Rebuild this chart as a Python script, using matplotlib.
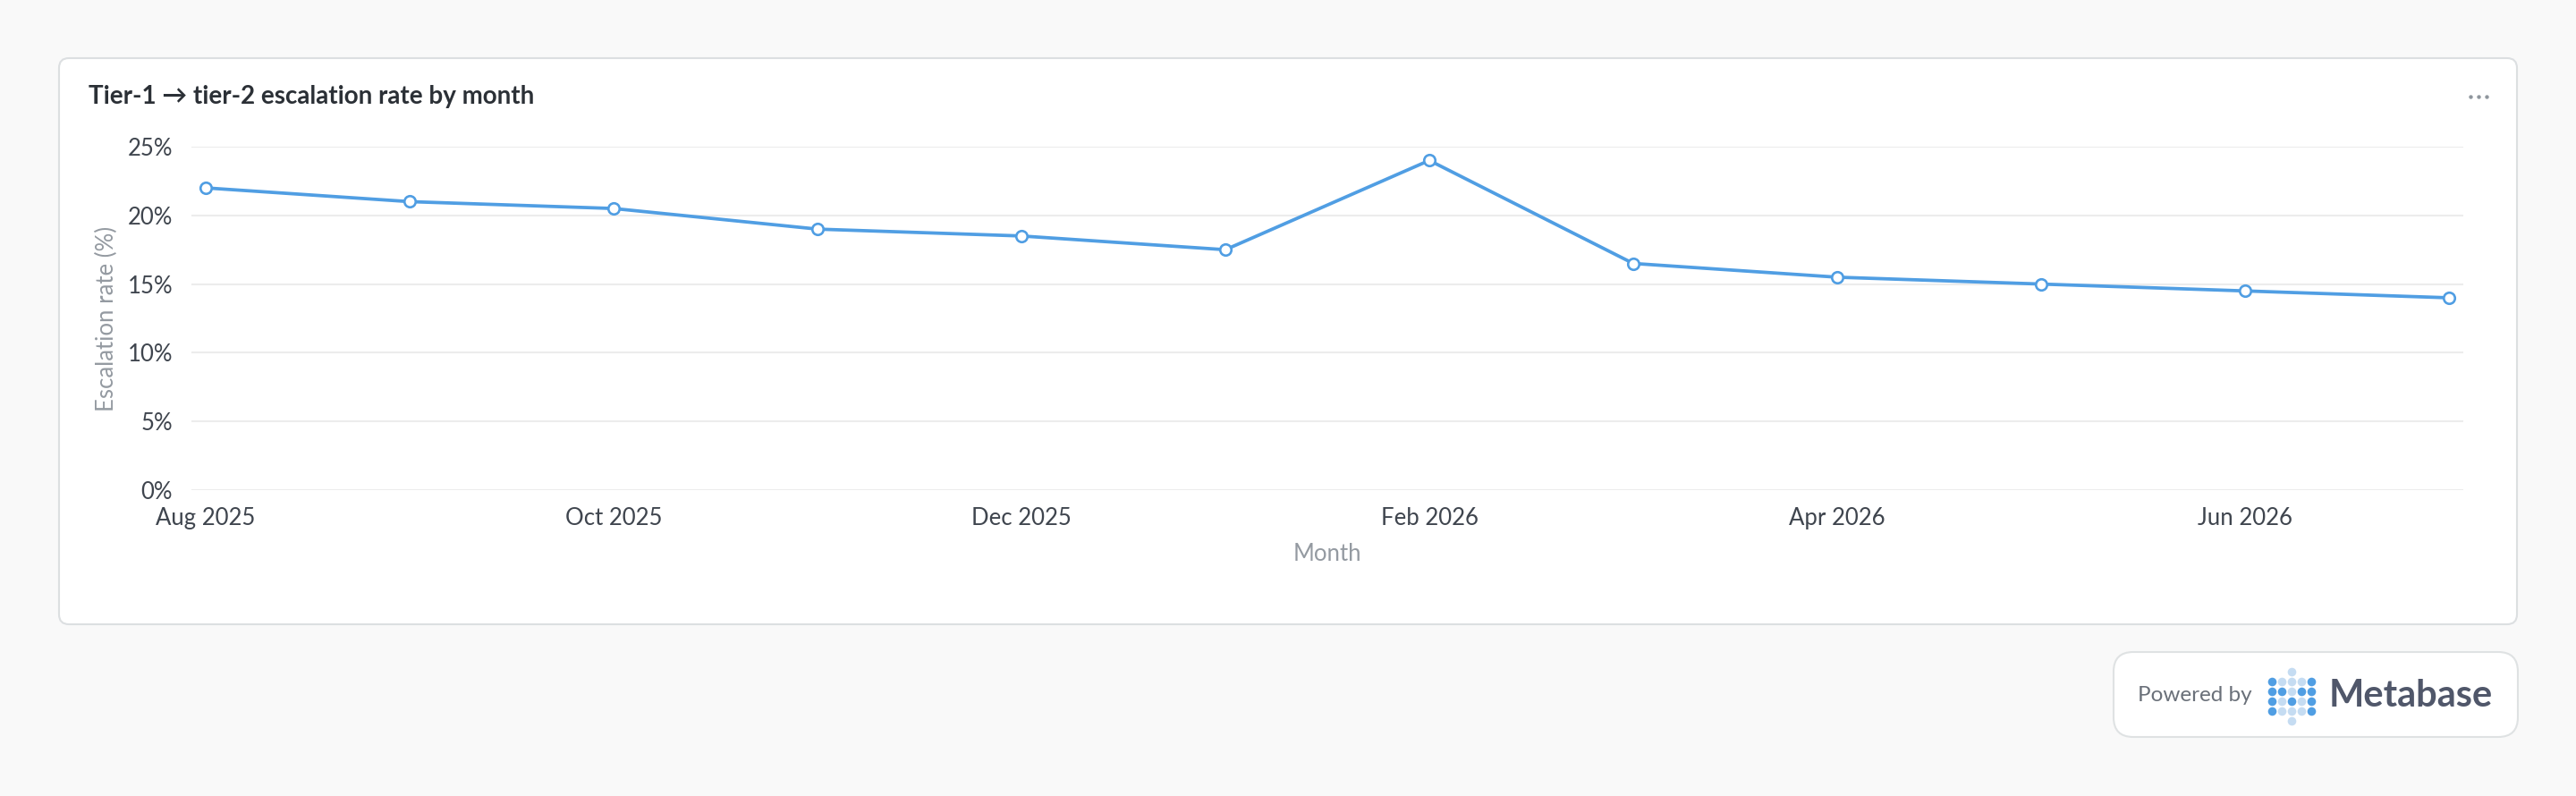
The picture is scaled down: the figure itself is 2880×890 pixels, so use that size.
import matplotlib
matplotlib.use('Agg')
import matplotlib.pyplot as plt
from matplotlib.patches import FancyBboxPatch
from matplotlib.ticker import FuncFormatter

plt.rcParams['font.family'] = ['Lato', 'DejaVu Sans']

# data
months = ['Aug 2025', 'Sep 2025', 'Oct 2025', 'Nov 2025', 'Dec 2025', 'Jan 2026',
          'Feb 2026', 'Mar 2026', 'Apr 2026', 'May 2026', 'Jun 2026', 'Jul 2026']
rate = [22.0, 21.0, 20.5, 19.0, 18.5, 17.5, 24.0, 16.5, 15.5, 15.0, 14.5, 14.0]
yticks = [0, 5, 10, 15, 20, 25]

# logo dot pattern (1 = dark, 0 = light, None = empty)
logo = [
    [None, None, 0, None, None],
    [1, 0, 0, 0, 1],
    [1, 1, 0, 1, 1],
    [1, 0, 1, 0, 1],
    [1, 0, 0, 0, 1],
    [None, None, 0, None, None],
]

W, H = 2880, 890
blue = '#509ee3'
light_blue = '#c5dcf2'

fig = plt.figure(figsize=(W / 100, H / 100), dpi=100)
fig.patch.set_facecolor('#f9f9f9')

# background layer in pixel coordinates
bg = fig.add_axes([0, 0, 1, 1])
bg.set_xlim(0, W)
bg.set_ylim(H, 0)
bg.axis('off')
bg.set_zorder(0)

card = FancyBboxPatch((66, 65), 2748, 633, boxstyle='round,pad=0,rounding_size=11',
                      fc='white', ec='#dcdfe1', lw=1.5)
bg.add_patch(card)
bg.text(99, 108, 'Tier-1 \u2192 tier-2 escalation rate by month', fontsize=20,
        fontweight='bold', color='#2b3036', ha='left', va='center')
bg.scatter([2762, 2771, 2780], [108, 108, 108], s=10, color='#8f969d', lw=0)

# powered by badge
badge = FancyBboxPatch((2363, 729), 452, 95, boxstyle='round,pad=0,rounding_size=22',
                       fc='white', ec='#dfe2e3', lw=1.5)
bg.add_patch(badge)
bg.text(2390, 778, 'Powered by', fontsize=17.5, color='#6a7079', ha='left', va='center')
for r, row in enumerate(logo):
    for c, v in enumerate(row):
        if v is None:
            continue
        bg.scatter(2539.5 + c * 11, 750.5 + r * 11, s=48,
                   color=blue if v else light_blue, lw=0)
bg.text(2604, 778, 'Metabase', fontsize=30, fontweight='bold', color='#50576a',
        ha='left', va='center')

# main chart
ax = fig.add_axes([214 / W, (H - 548) / H, (2754 - 214) / W, (548 - 164) / H])
ax.set_zorder(1)
ax.patch.set_alpha(0)
x = list(range(len(months)))
ax.plot(x, rate, color=blue, lw=2.7, marker='o', ms=9, mfc='white',
        mec=blue, mew=1.9, zorder=3, clip_on=False)

ax.set_ylim(0, 25)
ax.set_xlim(-16 / 228, len(months) - 1 + 16 / 228)
ax.set_yticks(yticks)
ax.yaxis.set_major_formatter(FuncFormatter(lambda v, p: f'{v:.0f}%'))
ax.set_xticks(x[::2])
ax.set_xticklabels(months[::2])
ax.grid(axis='y', color='#ececec', lw=1.5)
ax.set_axisbelow(True)
for s in ax.spines.values():
    s.set_visible(False)
ax.tick_params(axis='both', length=0, labelsize=18.5, labelcolor='#3f454e')
ax.tick_params(axis='y', pad=15)
ax.tick_params(axis='x', pad=14)

ax.set_ylabel('Escalation rate (%)', fontsize=18.5, color='#949aa1', va='center')
ax.yaxis.set_label_coords(-0.0372, 0.5)
ax.set_xlabel('Month', fontsize=18.5, color='#949aa1', va='center')
ax.xaxis.set_label_coords(0.5, -0.185)

fig.savefig('out.png', dpi=100, facecolor=fig.get_facecolor())
